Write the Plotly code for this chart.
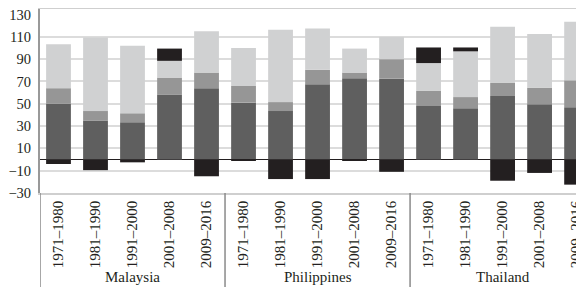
import plotly.graph_objects as go

countries = ["Malaysia"] * 5 + ["Philippines"] * 5 + ["Thailand"] * 5
periods = ["1971–1980", "1981–1990", "1991–2000", "2001–2008", "2009–2016"] * 3

series_dark = [50, 35, 33.5, 58, 64, 51, 43.5, 67.5, 73, 72.5, 48, 46, 57, 49.5, 47]
series_mid = [14, 8.5, 8, 15.5, 14, 15, 8, 13, 5, 17.5, 13.5, 10, 12, 15, 24]
series_light = [39.5, 66, 60.5, 15, 37, 34, 65, 37, 21.5, 20, 25, 41, 50, 48, 52.5]
series_black = [-4, -9.5, -2.5, 11, -15, -1, -17.5, -17.5, -0.5, -11, 14, 3.5, -19, -12, -22.5]

y_ticks = [-30, -10, 10, 30, 50, 70, 90, 110, 130]
grid_ticks = [-30, -10, 10, 30, 50, 70, 90, 110]

FONT = "Liberation Serif"
TXT = "#231f20"

# unique category keys, shown with the period text only
keys = [f"{c} {p}" for c, p in zip(countries, periods)]

fig = go.Figure()
for name, vals, col in [
    ("Series 1", series_dark, "#5f5f5f"),
    ("Series 2", series_mid, "#969696"),
    ("Series 3", series_light, "#d0d1d2"),
    ("Series 4", series_black, "#231f20"),
]:
    fig.add_trace(go.Bar(x=keys, y=vals, name=name, marker=dict(color=col, line=dict(width=0))))

# invisible helper trace so the grid axis is drawn
fig.add_trace(go.Scatter(x=keys, y=[None] * len(keys), yaxis="y2", mode="lines",
                         showlegend=False, hoverinfo="skip"))

# group layout: dividers and country labels derived from the category list
group_names = []
for c in countries:
    if c not in group_names:
        group_names.append(c)
shapes = []
annotations = []
for g in group_names:
    idx = [i for i, c in enumerate(countries) if c == g]
    start = min(idx) - 0.5
    shapes.append(dict(type="line", xref="x", yref="paper", x0=start, x1=start, y0=0, y1=-0.53,
                       line=dict(color="#8a8a8a", width=1.5)))
    annotations.append(dict(text=g, xref="x", yref="paper", x=sum(idx) / len(idx), y=-0.457,
                            showarrow=False, yanchor="middle", xanchor="center",
                            font=dict(size=15, family=FONT, color=TXT)))

yr = [-30, 135]
fig.update_layout(
    width=576, height=279,
    margin=dict(l=32, r=0, t=1, b=94, autoexpand=False),
    barmode="relative", bargap=0.33,
    showlegend=False,
    plot_bgcolor="white", paper_bgcolor="white",
    font=dict(family=FONT, color=TXT),
    shapes=shapes, annotations=annotations,
    xaxis=dict(
        type="category", range=[-0.5, 14.2],
        tickvals=keys, ticktext=periods,
        tickangle=-90, tickfont=dict(size=15, family=FONT, color=TXT),
        ticklabeloverflow="allow",
        showline=True, linecolor="#cfcfcf", linewidth=1.5, mirror=True,
        ticks="", showgrid=False, automargin=False,
    ),
    yaxis=dict(
        range=yr, tickvals=y_ticks, showgrid=False,
        tickfont=dict(size=14.5, family=FONT, color=TXT),
        ticklabelstandoff=4, ticklabeloverflow="allow",
        showline=True, linecolor="#999999", linewidth=2,
        zeroline=True, zerolinecolor="#231f20", zerolinewidth=1,
        ticks="", automargin=False,
    ),
    yaxis2=dict(
        range=yr, overlaying="y", tickvals=grid_ticks, showticklabels=False,
        showgrid=True, gridcolor="#dcdcdc", gridwidth=1.5, zeroline=False,
        showline=False, automargin=False,
    ),
)
fig.write_html("out.html")
